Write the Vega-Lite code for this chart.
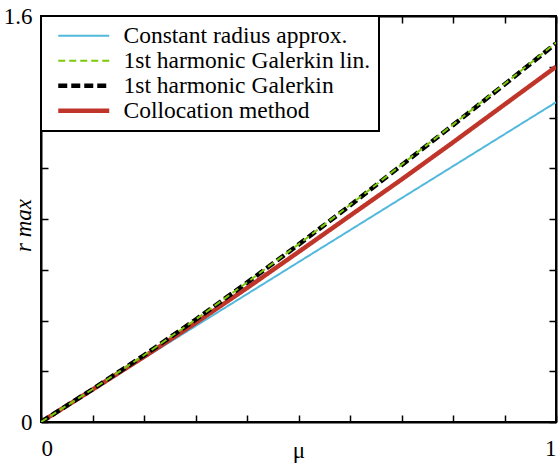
{
  "$schema": "https://vega.github.io/schema/vega-lite/v6.json",
  "autosize": "none",
  "width": 515,
  "height": 406,
  "padding": {"left": 41, "top": 16, "right": 2, "bottom": 41},
  "data": {"values": [
    {"mu": 0, "r": 0, "s": "Constant radius approx."},
    {"mu": 0.1, "r": 0.126, "s": "Constant radius approx."},
    {"mu": 0.2, "r": 0.252, "s": "Constant radius approx."},
    {"mu": 0.3, "r": 0.378, "s": "Constant radius approx."},
    {"mu": 0.4, "r": 0.504, "s": "Constant radius approx."},
    {"mu": 0.5, "r": 0.63, "s": "Constant radius approx."},
    {"mu": 0.6, "r": 0.756, "s": "Constant radius approx."},
    {"mu": 0.7, "r": 0.882, "s": "Constant radius approx."},
    {"mu": 0.8, "r": 1.008, "s": "Constant radius approx."},
    {"mu": 0.9, "r": 1.134, "s": "Constant radius approx."},
    {"mu": 1.0, "r": 1.26, "s": "Constant radius approx."},
    {"mu": 0, "r": 0, "s": "1st harmonic Galerkin lin."},
    {"mu": 0.1, "r": 0.129, "s": "1st harmonic Galerkin lin."},
    {"mu": 0.2, "r": 0.263, "s": "1st harmonic Galerkin lin."},
    {"mu": 0.3, "r": 0.4035, "s": "1st harmonic Galerkin lin."},
    {"mu": 0.4, "r": 0.55, "s": "1st harmonic Galerkin lin."},
    {"mu": 0.5, "r": 0.7, "s": "1st harmonic Galerkin lin."},
    {"mu": 0.6, "r": 0.855, "s": "1st harmonic Galerkin lin."},
    {"mu": 0.7, "r": 1.014, "s": "1st harmonic Galerkin lin."},
    {"mu": 0.8, "r": 1.172, "s": "1st harmonic Galerkin lin."},
    {"mu": 0.9, "r": 1.332, "s": "1st harmonic Galerkin lin."},
    {"mu": 1.0, "r": 1.495, "s": "1st harmonic Galerkin lin."},
    {"mu": 0, "r": 0, "s": "1st harmonic Galerkin"},
    {"mu": 0.1, "r": 0.129, "s": "1st harmonic Galerkin"},
    {"mu": 0.2, "r": 0.263, "s": "1st harmonic Galerkin"},
    {"mu": 0.3, "r": 0.403, "s": "1st harmonic Galerkin"},
    {"mu": 0.4, "r": 0.549, "s": "1st harmonic Galerkin"},
    {"mu": 0.5, "r": 0.699, "s": "1st harmonic Galerkin"},
    {"mu": 0.6, "r": 0.853, "s": "1st harmonic Galerkin"},
    {"mu": 0.7, "r": 1.012, "s": "1st harmonic Galerkin"},
    {"mu": 0.8, "r": 1.17, "s": "1st harmonic Galerkin"},
    {"mu": 0.9, "r": 1.33, "s": "1st harmonic Galerkin"},
    {"mu": 1.0, "r": 1.492, "s": "1st harmonic Galerkin"},
    {"mu": 0, "r": 0, "s": "Collocation method"},
    {"mu": 0.1, "r": 0.1275, "s": "Collocation method"},
    {"mu": 0.2, "r": 0.257, "s": "Collocation method"},
    {"mu": 0.3, "r": 0.39, "s": "Collocation method"},
    {"mu": 0.4, "r": 0.528, "s": "Collocation method"},
    {"mu": 0.5, "r": 0.67, "s": "Collocation method"},
    {"mu": 0.6, "r": 0.813, "s": "Collocation method"},
    {"mu": 0.7, "r": 0.9555, "s": "Collocation method"},
    {"mu": 0.8, "r": 1.102, "s": "Collocation method"},
    {"mu": 0.9, "r": 1.251, "s": "Collocation method"},
    {"mu": 1.0, "r": 1.4, "s": "Collocation method"}
  ]},
  "encoding": {
    "color": {"field": "s", "type": "nominal",
      "scale": {"domain": ["Constant radius approx.", "1st harmonic Galerkin lin.", "1st harmonic Galerkin", "Collocation method"],
        "range": ["#52b9dc", "#7cc80a", "#000000", "#c0352a"]},
      "legend": {"title": null,
        "encode": {
          "symbols": {"update": {"strokeWidth": {"signal": "datum.value == '1st harmonic Galerkin' || datum.value == 'Collocation method' ? 4.5 : 2"}}},
          "legend": {"update": {"strokeWidth": {"value": 2}}}}}},
    "strokeDash": {"field": "s", "type": "nominal",
      "scale": {"domain": ["Constant radius approx.", "1st harmonic Galerkin lin.", "1st harmonic Galerkin", "Collocation method"],
        "range": [[1, 0], [7, 4], [9, 4], [1, 0]]},
      "legend": {"title": null}}
  },
  "layer": [
    {"transform": [{"filter": "datum.s == 'Constant radius approx.'"}],
      "mark": {"type": "line", "clip": true, "strokeWidth": 2},
      "encoding": {
        "x": {"field": "mu", "type": "quantitative",
          "scale": {"domain": [0, 1], "nice": false},
          "axis": {"title": "μ", "values": [0,0.1,0.2,0.3,0.4,0.5,0.6,0.7,0.8,0.9,1],
            "labelExpr": "datum.value == 0 ? '0' : datum.value == 1 ? '1' : ''",
            "labelPadding": 22, "titleY": 35, "titleBaseline": "alphabetic", "titleFontStyle": "normal"}},
        "y": {"field": "r", "type": "quantitative",
          "scale": {"domain": [0, 1.6], "nice": false},
          "axis": {"title": "r max", "values": [0,0.2,0.4,0.6,0.8,1,1.2,1.4,1.6],
            "labelExpr": "datum.value == 0 ? '0' : datum.value == 1.6 ? '1.6' : ''",
            "labelPadding": 16, "titleFontStyle": "italic", "titleX": -18, "titleY": 209,
            "titleAngle": -90, "titleAlign": "center", "titleBaseline": "middle"}}
      }},
    {"transform": [{"filter": "datum.s == 'Collocation method'"}],
      "mark": {"type": "line", "clip": true, "strokeWidth": 4.5},
      "encoding": {"x": {"field": "mu", "type": "quantitative", "axis": null}, "y": {"field": "r", "type": "quantitative", "axis": null}}},
    {"transform": [{"filter": "datum.s == '1st harmonic Galerkin'"}],
      "mark": {"type": "line", "clip": true, "strokeWidth": 4.5},
      "encoding": {"x": {"field": "mu", "type": "quantitative", "axis": null}, "y": {"field": "r", "type": "quantitative", "axis": null}}},
    {"transform": [{"filter": "datum.s == '1st harmonic Galerkin lin.'"}],
      "mark": {"type": "line", "clip": true, "strokeWidth": 2},
      "encoding": {"x": {"field": "mu", "type": "quantitative", "axis": null}, "y": {"field": "r", "type": "quantitative", "axis": null}}},
    {"mark": {"type": "line", "strokeOpacity": 0},
      "encoding": {
        "x": {"field": "mu", "type": "quantitative",
          "axis": {"orient": "top", "title": null, "labels": false, "values": [0,0.1,0.2,0.3,0.4,0.5,0.6,0.7,0.8,0.9,1]}},
        "y": {"field": "r", "type": "quantitative",
          "axis": {"orient": "right", "title": null, "labels": false, "values": [0,0.2,0.4,0.6,0.8,1,1.2,1.4,1.6]}}
      }}
  ],
  "resolve": {"axis": {"x": "independent", "y": "independent"}},
  "config": {
    "view": {"stroke": "black", "strokeWidth": 2},
    "font": "Liberation Serif",
    "axis": {
      "domainColor": "black", "domainWidth": 2, "tickColor": "black", "tickWidth": 1.5,
      "tickSize": -7, "grid": false, "labelFont": "Liberation Serif", "labelFontSize": 23,
      "labelColor": "black", "titleFont": "Liberation Serif", "titleFontSize": 23,
      "titleFontWeight": "normal", "titleColor": "black"
    },
    "legend": {
      "orient": "none", "legendX": 0, "legendY": 0,
      "strokeColor": "black", "fillColor": "white", "padding": 8,
      "symbolType": "M-2.55,0H2.55", "symbolSize": 400, "symbolOffset": 23,
      "labelFont": "Liberation Serif", "labelFontSize": 23.5, "labelColor": "black",
      "labelOffset": 28, "rowPadding": 0, "labelLimit": 400
    }
  }
}
